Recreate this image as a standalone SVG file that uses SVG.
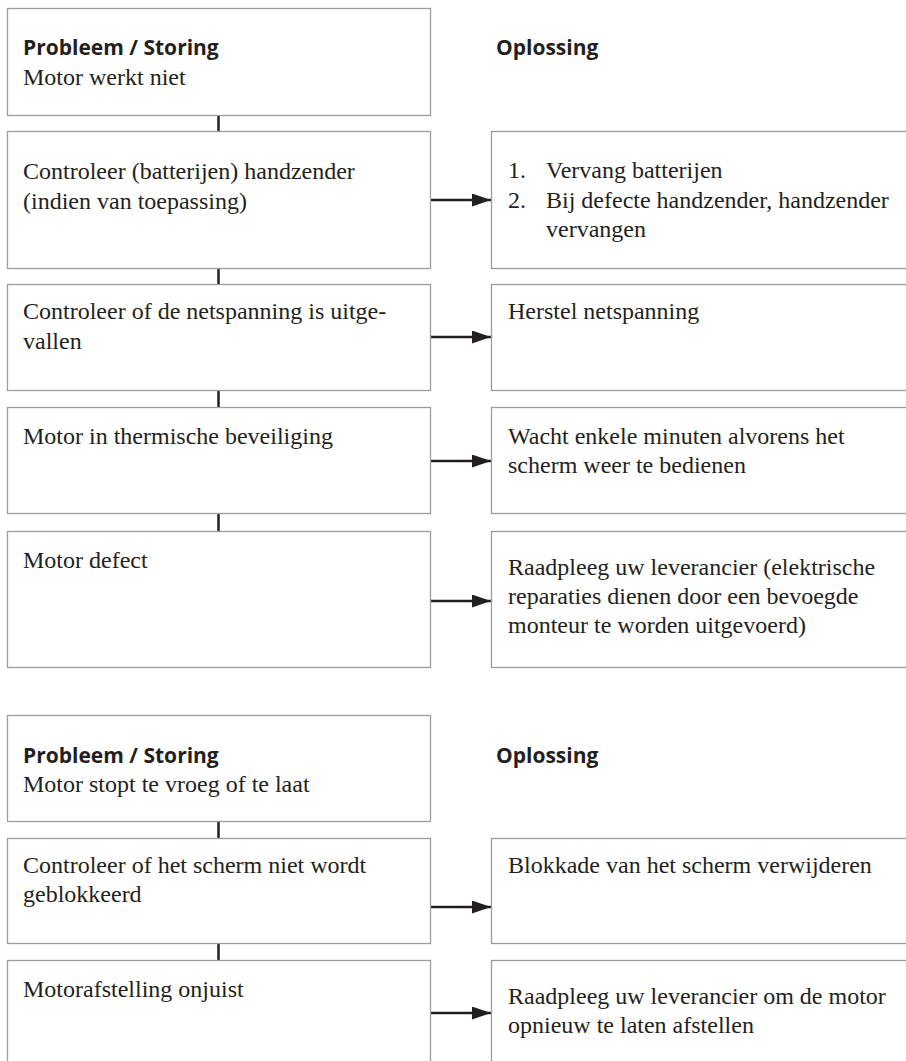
<svg xmlns="http://www.w3.org/2000/svg" width="906" height="1061" viewBox="0 0 906 1061">
<style>
.box{fill:#fff;stroke:#9d9d9d;stroke-width:1.3}
.t{font-family:"Liberation Serif","Times New Roman",serif;font-size:24px;fill:#231f20}
.h{font-family:"Open Sans","Liberation Sans",sans-serif;font-size:21px;font-weight:bold;fill:#231f20}
.c{stroke:#231f20;stroke-width:2.5;fill:none}
</style>
<defs>
<marker id="ah" markerUnits="userSpaceOnUse" markerWidth="20" markerHeight="14" refX="19" refY="6.5" orient="auto">
<path d="M0,0 L19,6.5 L0,13 z" fill="#231f20"/>
</marker>
</defs>
<rect width="906" height="1061" fill="#fff"/>
<g id="connectors">
<line class="c" x1="218.5" y1="115" x2="218.5" y2="131"/>
<line class="c" x1="218.5" y1="268" x2="218.5" y2="284"/>
<line class="c" x1="218.5" y1="391" x2="218.5" y2="407"/>
<line class="c" x1="218.5" y1="513" x2="218.5" y2="531"/>
<line class="c" x1="218.5" y1="821" x2="218.5" y2="838"/>
<line class="c" x1="218.5" y1="943" x2="218.5" y2="960"/>
<line class="c" x1="431" y1="200" x2="491" y2="200" marker-end="url(#ah)"/>
<line class="c" x1="431" y1="337" x2="491" y2="337" marker-end="url(#ah)"/>
<line class="c" x1="431" y1="461" x2="491" y2="461" marker-end="url(#ah)"/>
<line class="c" x1="431" y1="601" x2="491" y2="601" marker-end="url(#ah)"/>
<line class="c" x1="431" y1="907" x2="491" y2="907" marker-end="url(#ah)"/>
<line class="c" x1="431" y1="1013" x2="491" y2="1013" marker-end="url(#ah)"/>
</g>
<g id="header1">
<rect class="box" x="7.5" y="8.5" width="423" height="107"/>
<text class="h" x="23" y="55">Probleem / Storing</text>
<text class="t" x="23" y="85">Motor werkt niet</text>
<text class="h" x="496" y="55">Oplossing</text>
</g>
<g id="p1">
<rect class="box" x="7.5" y="131.5" width="423" height="137"/>
<text class="t" x="23" y="179">Controleer (batterijen) handzender</text>
<text class="t" x="23" y="209">(indien van toepassing)</text>
</g>
<g id="s1">
<rect class="box" x="491.5" y="131.5" width="430" height="137"/>
<text class="t" x="508" y="178">1.</text>
<text class="t" x="546" y="178">Vervang batterijen</text>
<text class="t" x="508" y="208">2.</text>
<text class="t" x="546" y="208">Bij defecte handzender, handzender</text>
<text class="t" x="546" y="237">vervangen</text>
</g>
<g id="p2">
<rect class="box" x="7.5" y="284.5" width="423" height="106"/>
<text class="t" x="23" y="319">Controleer of de netspanning is uitge-</text>
<text class="t" x="23" y="349">vallen</text>
</g>
<g id="s2">
<rect class="box" x="491.5" y="284.5" width="430" height="106"/>
<text class="t" x="508" y="319">Herstel netspanning</text>
</g>
<g id="p3">
<rect class="box" x="7.5" y="407.5" width="423" height="106"/>
<text class="t" x="23" y="444">Motor in thermische beveiliging</text>
</g>
<g id="s3">
<rect class="box" x="491.5" y="407.5" width="430" height="106"/>
<text class="t" x="508" y="444">Wacht enkele minuten alvorens het</text>
<text class="t" x="508" y="473">scherm weer te bedienen</text>
</g>
<g id="p4">
<rect class="box" x="7.5" y="531.5" width="423" height="136"/>
<text class="t" x="23" y="568">Motor defect</text>
</g>
<g id="s4">
<rect class="box" x="491.5" y="531.5" width="430" height="136"/>
<text class="t" x="508" y="575">Raadpleeg uw leverancier (elektrische</text>
<text class="t" x="508" y="604">reparaties dienen door een bevoegde</text>
<text class="t" x="508" y="633">monteur te worden uitgevoerd)</text>
</g>
<g id="header2">
<rect class="box" x="7.5" y="715.5" width="423" height="106"/>
<text class="h" x="23" y="763">Probleem / Storing</text>
<text class="t" x="23" y="792">Motor stopt te vroeg of te laat</text>
<text class="h" x="496" y="763">Oplossing</text>
</g>
<g id="p5">
<rect class="box" x="7.5" y="838.5" width="423" height="105"/>
<text class="t" x="23" y="873">Controleer of het scherm niet wordt</text>
<text class="t" x="23" y="902">geblokkeerd</text>
</g>
<g id="s5">
<rect class="box" x="491.5" y="838.5" width="430" height="105"/>
<text class="t" x="508" y="873">Blokkade van het scherm verwijderen</text>
</g>
<g id="p6">
<rect class="box" x="7.5" y="960.5" width="423" height="120"/>
<text class="t" x="23" y="997">Motorafstelling onjuist</text>
</g>
<g id="s6">
<rect class="box" x="491.5" y="960.5" width="430" height="120"/>
<text class="t" x="508" y="1004">Raadpleeg uw leverancier om de motor</text>
<text class="t" x="508" y="1033">opnieuw te laten afstellen</text>
</g>
</svg>
